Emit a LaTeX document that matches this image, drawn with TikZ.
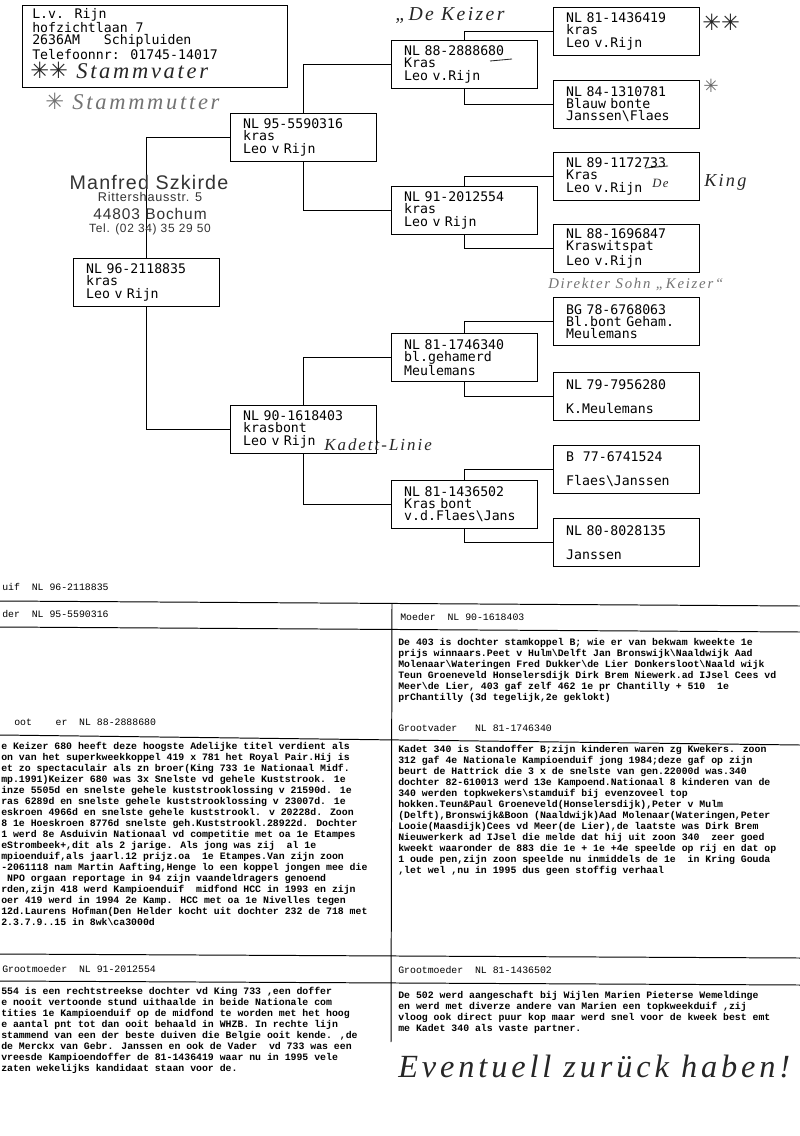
\documentclass[tikz,border=0pt]{standalone}
\usepackage{fontspec}
\setmainfont{Liberation Serif}
\newfontfamily\boxfont{DejaVu Sans Mono}[WordSpace={1,0,0}]
\newfontfamily\typefont{Liberation Mono}[WordSpace={1,0,0}]
\newfontfamily\stampfont{Liberation Sans}[LetterSpace=6]
\newfontfamily\symfont{DejaVu Sans}
\newfontfamily\handfont{Liberation Serif}[LetterSpace=12]

\begin{document}
\begin{tikzpicture}[x=0.025cm, y=-0.025cm, every node/.style={inner sep=0pt}]

    % Styles
    \tikzstyle{ped_box} = [draw=black, line width=0.6pt, anchor=north west,
        minimum width=3.625cm, minimum height=1.2cm, align=left, text width=3.0cm,
        inner xsep=0.32cm, font=\boxfont\fontsize{9.4}{8.6}\selectfont]
    \tikzstyle{ped_line} = [draw=black, line width=0.6pt]
    \tikzstyle{hand_note} = [anchor=west, text=black!85, font=\handfont\itshape\fontsize{16}{16}\selectfont]
    \tikzstyle{stamp_text} = [text=black!80, font=\stampfont\fontsize{8.5}{8.5}\selectfont]
    \tikzstyle{table_head} = [anchor=west, font=\typefont\fontsize{7}{7.8}\selectfont]
    \tikzstyle{table_text} = [anchor=north west, align=left, font=\typefont\bfseries\fontsize{7}{7.8}\selectfont]
    \tikzstyle{table_rule} = [draw=black, line width=0.7pt]

    % Page 800 x 1136 px
    \fill[white] (0,0) rectangle (800,1136);
    \useasboundingbox (0,0) rectangle (800,1136);

    % Column X positions (px)
    \def\colone{73}
    \def\coltwo{230}
    \def\colthree{391}
    \def\colfour{553}

    % Breeder address
    \node[draw=black, line width=0.6pt, anchor=north west, minimum width=6.625cm, minimum height=2.05cm] (addr) at (22,5) {};
    \node[anchor=north west, align=left, font=\boxfont\fontsize{9.4}{8.7}\selectfont] (addr_text) at (32,8)
      {L.v. Rijn\\hofzichtlaan 7\\2636AM\ \ \ Schipluiden\\Telefoonnr: 01745-14017};

    % Pedigree boxes
    \node[ped_box] (nl96) at (\colone,258) {NL 96-2118835\\kras\\Leo v Rijn};

    \node[ped_box] (nl95) at (\coltwo,113) {NL 95-5590316\\kras\\Leo v Rijn};
    \node[ped_box] (nl90) at (\coltwo,405) {NL 90-1618403\\krasbont\\Leo v Rijn};

    \node[ped_box] (nl88) at (\colthree,40) {NL 88-2888680\\Kras\\Leo v.Rijn};
    \node[ped_box] (nl91) at (\colthree,186) {NL 91-2012554\\kras\\Leo v Rijn};
    \node[ped_box] (nl81a) at (\colthree,333) {NL 81-1746340\\bl.gehamerd\\Meulemans};
    \node[ped_box] (nl81b) at (\colthree,480) {NL 81-1436502\\Kras bont\\v.d.Flaes\textbackslash Jans};

    \node[ped_box] (nl81c) at (\colfour,7) {NL 81-1436419\\kras\\Leo v.Rijn};
    \node[ped_box] (nl84) at (\colfour,80) {NL 84-1310781\\Blauw bonte\\Janssen\textbackslash Flaes};
    \node[ped_box] (nl89) at (\colfour,152) {NL 89-1172733\\Kras\\Leo v.Rijn};
    \node[ped_box] (nl88b) at (\colfour,224) {NL 88-1696847\\Kraswitspat\\Leo v.Rijn};
    \node[ped_box] (bg78) at (\colfour,297) {BG 78-6768063\\Bl.bont Geham.\\Meulemans};
    \node[ped_box] (nl79) at (\colfour,372) {NL 79-7956280\\[8.6pt]K.Meulemans};
    \node[ped_box] (b77) at (\colfour,445) {B\ \ 77-6741524\\[8.6pt]Flaes\textbackslash Janssen};
    \node[ped_box] (nl80) at (\colfour,518) {NL 80-8028135\\[8.6pt]Janssen};

    % Connectors
    \draw[ped_line] (nl96.north) |- (nl95.west);
    \draw[ped_line] (nl96.south) |- (nl90.west);
    \draw[ped_line] (nl95.north) |- (nl88.west);
    \draw[ped_line] (nl95.south) |- (nl91.west);
    \draw[ped_line] (nl90.north) |- (nl81a.west);
    \draw[ped_line] (nl90.south) |- (nl81b.west);
    \draw[ped_line] (nl88.north) |- (nl81c.west);
    \draw[ped_line] (nl88.south) |- (nl84.west);
    \draw[ped_line] (nl91.north) |- (nl89.west);
    \draw[ped_line] (nl91.south) |- (nl88b.west);
    \draw[ped_line] (nl81a.north) |- (bg78.west);
    \draw[ped_line] (nl81a.south) |- (nl79.west);
    \draw[ped_line] (nl81b.north) |- (b77.west);
    \draw[ped_line] (nl81b.south) |- (nl80.west);

    % Stamp
    \node[stamp_text, font=\stampfont\fontsize{14}{14}\selectfont] (stamp_name) at (149,182) {Manfred Szkirde};
    \node[stamp_text, font=\stampfont\fontsize{9}{9}\selectfont] (stamp_street) at (150,197) {Rittershausstr. 5};
    \node[stamp_text, font=\stampfont\fontsize{11}{11}\selectfont] (stamp_city) at (150,214) {44803 Bochum};
    \node[stamp_text] (stamp_tel) at (150,229) {Tel. (02 34) 35 29 50};

    % Handwritten notes
    \node[hand_note] (note_vater) at (30,70) {{\symfont ✳✳} Stammvater};
    \node[hand_note, text=black!55] (note_mutter) at (45,101) {{\symfont ✳} Stammmutter};
    \node[hand_note, font=\handfont\itshape\fontsize{14}{14}\selectfont] (note_keizer) at (395,15) {„De Keizer};
    \node[hand_note, font=\symfont\fontsize{16}{16}\selectfont] (note_stars) at (702,22) {✳✳};
    \node[hand_note, text=black!60, font=\symfont\fontsize{13}{13}\selectfont] (note_star) at (703,86) {✳};
    \node[hand_note, font=\handfont\itshape\fontsize{9}{9}\selectfont] (note_de) at (652,183) {De};
    \node[hand_note, font=\handfont\itshape\fontsize{13}{13}\selectfont] (note_king) at (704,182) {King};
    \node[hand_note, text=black!55, font=\handfont\itshape\fontsize{10.5}{10.5}\selectfont] (note_sohn) at (548,285) {Direkter Sohn „Keizer“};
    \node[hand_note, font=\handfont\itshape\fontsize{12}{12}\selectfont] (note_kadett) at (324,445) {Kadett-Linie};
    \draw[black!85, line width=0.6pt] (490,61) -- (512,59);
    \draw[black!85, line width=0.6pt] (645,168) -- (668,166);

    % Description table
    \node[table_head] (hdr_duif) at (2,587) {uif\ \ NL 96-2118835};
    \draw[table_rule] (0,601) -- (800,606);
    \node[table_head] (hdr_vader) at (2,614) {der\ \ NL 95-5590316};
    \node[table_head] (hdr_moeder) at (400,617) {Moeder\ \ NL 90-1618403};
    \draw[table_rule] (0,627) -- (800,632);
    \draw[table_rule] (392,603) -- (391,1042);

    \node[table_text] (txt_moeder) at (398,638) {De 403 is dochter stamkoppel B; wie er van bekwam kweekte 1e\\
prijs winnaars.Peet v Hulm\textbackslash Delft Jan Bronswijk\textbackslash Naaldwijk Aad\\
Molenaar\textbackslash Wateringen Fred Dukker\textbackslash de Lier Donkersloot\textbackslash Naald wijk\\
Teun Groeneveld Honselersdijk Dirk Brem Niewerk.ad IJsel Cees vd\\
Meer\textbackslash de Lier, 403 gaf zelf 462 1e pr Chantilly + 510\ \ 1e\\
prChantilly (3d tegelijk,2e geklokt)};

    \node[table_head] (hdr_gv1) at (14,722) {oot\ \ \ \ er\ \ NL 88-2888680};
    \node[table_head] (hdr_gv2) at (398,728) {Grootvader\ \ \ NL 81-1746340};
    \draw[table_rule] (0,735) -- (800,745);

    \node[table_text] (txt_gv1) at (1,742) {e Keizer 680 heeft deze hoogste Adelijke titel verdient als\\
on van het superkweekkoppel 419 x 781 het Royal Pair.Hij is\\
et zo spectaculair als zn broer(King 733 1e Nationaal Midf.\\
mp.1991)Keizer 680 was 3x Snelste vd gehele Kuststrook. 1e\\
inze 5505d en snelste gehele kuststrooklossing v 21590d. 1e\\
ras 6289d en snelste gehele kuststrooklossing v 23007d. 1e\\
eskroen 4966d en snelste gehele kuststrookl. v 20228d. Zoon\\
8 1e Hoeskroen 8776d snelste geh.Kuststrookl.28922d. Dochter\\
1 werd 8e Asduivin Nationaal vd competitie met oa 1e Etampes\\
eStrombeek+,dit als 2 jarige. Als jong was zij\ \ al 1e\\
mpioenduif,als jaarl.12 prijz.oa\ \ 1e Etampes.Van zijn zoon\\
-2061118 nam Martin Aafting,Henge lo een koppel jongen mee die\\
\ NPO orgaan reportage in 94 zijn vaandeldragers genoend\\
rden,zijn 418 werd Kampioenduif\ \ midfond HCC in 1993 en zijn\\
oer 419 werd in 1994 2e Kamp. HCC met oa 1e Nivelles tegen\\
12d.Laurens Hofman(Den Helder kocht uit dochter 232 de 718 met\\
2.3.7.9..15 in 8wk\textbackslash ca3000d};

    \node[table_text] (txt_gv2) at (398,745) {Kadet 340 is Standoffer B;zijn kinderen waren zg Kwekers. zoon\\
312 gaf 4e Nationale Kampioenduif jong 1984;deze gaf op zijn\\
beurt de Hattrick die 3 x de snelste van gen.22000d was.340\\
dochter 82-610013 werd 13e Kampoend.Nationaal 8 kinderen van de\\
340 werden topkwekers\textbackslash stamduif bij evenzoveel top\\
hokken.Teun\&Paul Groeneveld(Honselersdijk),Peter v Mulm\\
(Delft),Bronswijk\&Boon (Naaldwijk)Aad Molenaar(Wateringen,Peter\\
Looie(Maasdijk)Cees vd Meer(de Lier),de laatste was Dirk Brem\\
Nieuwerkerk ad IJsel die melde dat hij uit zoon 340\ \ zeer goed\\
kweekt waaronder de 883 die 1e + 1e +4e speelde op rij en dat op\\
1 oude pen,zijn zoon speelde nu inmiddels de 1e\ \ in Kring Gouda\\
,let wel ,nu in 1995 dus geen stoffig verhaal};

    \draw[table_rule] (0,954) -- (800,958);
    \node[table_head] (hdr_gm1) at (2,969) {Grootmoeder\ \ NL 91-2012554};
    \node[table_head] (hdr_gm2) at (398,970) {Grootmoeder\ \ NL 81-1436502};
    \draw[table_rule] (0,981) -- (800,985);

    \node[table_text] (txt_gm1) at (1,987) {554 is een rechtstreekse dochter vd King 733 ,een doffer\\
e nooit vertoonde stund uithaalde in beide Nationale com\\
tities 1e Kampioenduif op de midfond te worden met het hoog\\
e aantal pnt tot dan ooit behaald in WHZB. In rechte lijn\\
stammend van een der beste duiven die Belgie ooit kende. ,de\\
de Merckx van Gebr. Janssen en ook de Vader\ \ vd 733 was een\\
vreesde Kampioendoffer de 81-1436419 waar nu in 1995 vele\\
zaten wekelijks kandidaat staan voor de.};

    \node[table_text] (txt_gm2) at (398,991) {De 502 werd aangeschaft bij Wijlen Marien Pieterse Wemeldinge\\
en werd met diverze andere van Marien een topkweekduif ,zij\\
vloog ook direct puur kop maar werd snel voor de kweek best emt\\
me Kadet 340 als vaste partner.};

    \node[hand_note, font=\handfont\itshape\fontsize{23}{23}\selectfont] (note_zurueck) at (398,1066) {Eventuell zurück haben!};

\end{tikzpicture}
\end{document}
